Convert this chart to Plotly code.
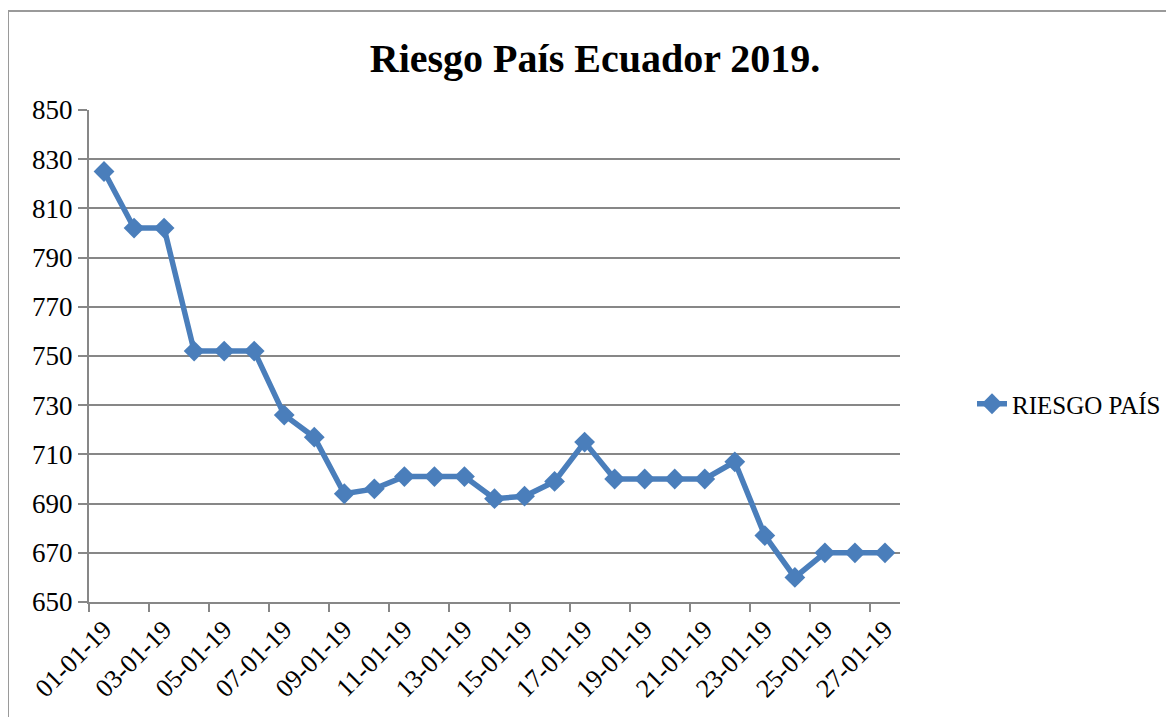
import plotly.graph_objects as go

# %%

fechas = ["01-01-19", "02-01-19", "03-01-19", "04-01-19", "05-01-19", "06-01-19",
          "07-01-19", "08-01-19", "09-01-19", "10-01-19", "11-01-19", "12-01-19",
          "13-01-19", "14-01-19", "15-01-19", "16-01-19", "17-01-19", "18-01-19",
          "19-01-19", "20-01-19", "21-01-19", "22-01-19", "23-01-19", "24-01-19",
          "25-01-19", "26-01-19", "27-01-19"]
riesgo_pais = [825, 802, 802, 752, 752, 752, 726, 717, 694, 696, 701, 701, 701,
               692, 693, 699, 715, 700, 700, 700, 700, 707, 677, 660, 670, 670, 670]

# the page body adds an 8px offset, so the figure is 8px smaller
OFF = 8
W, H = 1174 - OFF, 717 - OFF
L, R, T, B = 89 - OFF, 274, 110 - OFF, 115
pw, ph = W - L - R, H - T - B

azul = "#4A7EBB"
gris = "#878787"
serif = "Liberation Serif, Times New Roman, serif"

# %%

fig = go.Figure()
fig.add_trace(go.Scatter(x=fechas, y=riesgo_pais,
                         mode='lines+markers',
                         name='RIESGO PAÍS',
                         line=dict(color=azul, width=5.5),
                         marker=dict(symbol='diamond', size=16, color=azul)))

fig.update_layout(
    width=W, height=H,
    margin=dict(l=L, r=R, t=T, b=B),
    paper_bgcolor="white",
    plot_bgcolor="white",
    font=dict(family=serif, size=26, color="black"),
    title=dict(text="Riesgo País Ecuador 2019.",
               font=dict(family=serif, size=40, color="black", weight="bold"),
               xref="container", yref="container",
               x=(595 - OFF) / W, y=1 - (58 - OFF) / H,
               xanchor="center", yanchor="middle"),
    showlegend=True,
    legend=dict(xref="container", yref="container",
                x=(972 - OFF) / W, y=1 - (404 - OFF) / H,
                xanchor="left", yanchor="middle",
                font=dict(family=serif, size=25),
                bgcolor="rgba(0,0,0,0)"),
)

fig.update_xaxes(type='category',
                 range=[-0.5, len(fechas) - 0.5],
                 tickmode='linear', tick0=0, dtick=2,
                 tickson='boundaries',
                 ticks='outside', ticklen=8, tickwidth=2, tickcolor=gris,
                 tickangle=-45,
                 showline=True, linecolor=gris, linewidth=2,
                 showgrid=False, zeroline=False,
                 tickfont=dict(family=serif, size=26))

fig.update_yaxes(range=[650, 850], tickmode='linear', tick0=650, dtick=20,
                 ticks='outside', ticklen=9, tickwidth=2, tickcolor=gris,
                 showline=True, linecolor=gris, linewidth=2,
                 showgrid=True, gridcolor=gris, gridwidth=2,
                 zeroline=False,
                 tickfont=dict(family=serif, size=27))

# marco del grafico (solo borde izquierdo y superior visibles)
fx = (8 - OFF - L) / pw
fy = (T + ph - (11 - OFF)) / ph
fig.add_shape(type="line", xref="paper", yref="paper",
              x0=fx, x1=fx, y0=fy, y1=-(B + 5) / ph,
              line=dict(color="#9A9A9A", width=2))
fig.add_shape(type="line", xref="paper", yref="paper",
              x0=fx, x1=(W - L + 5) / pw, y0=fy, y1=fy,
              line=dict(color="#9A9A9A", width=2))

fig.write_html("out.html")
